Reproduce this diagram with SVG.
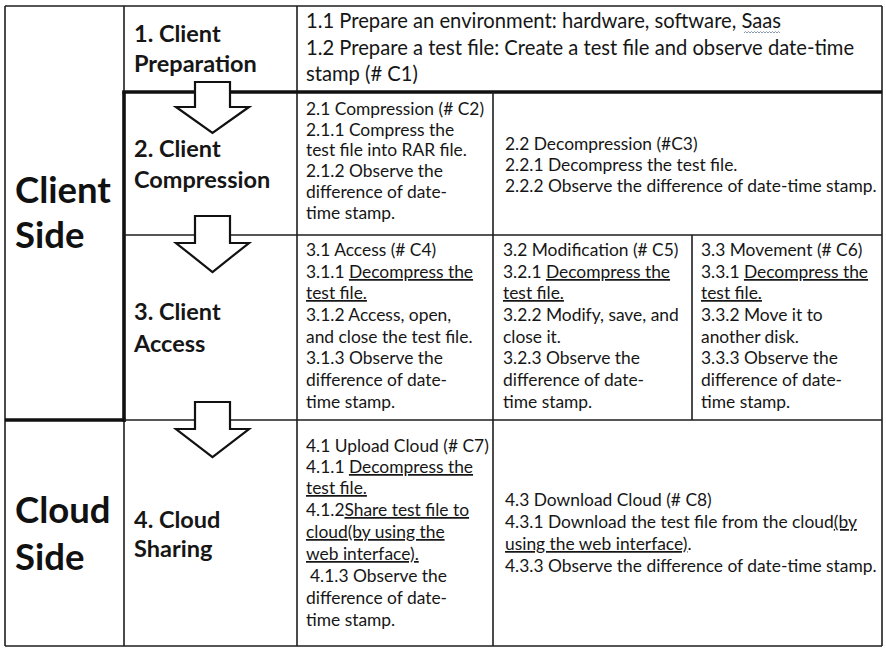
<svg xmlns="http://www.w3.org/2000/svg" width="886" height="650" viewBox="0 0 886 650">
  <style>
    .bg { fill: #ffffff; }
    .thin { stroke: #1e1e1e; stroke-width: 1.6; fill: none; }
    .thick { stroke: #111111; stroke-width: 3.6; fill: none; }
    .side { font-family: Lato, "Open Sans", sans-serif; font-weight: 700; font-size: 36.5px; fill: #111; }
    .stage { font-family: Lato, "Open Sans", sans-serif; font-weight: 700; font-size: 23.5px; fill: #161616; }
    .lead { font-family: Lato, "Open Sans", sans-serif; font-size: 20.2px; fill: #161616; }
    .body { font-family: Lato, "Open Sans", sans-serif; font-size: 17.4px; fill: #161616; }
    .u { text-decoration: underline; }
    .arrow { fill: #ffffff; stroke: #111111; stroke-width: 2.2; stroke-linejoin: miter; }
    .squiggle { fill: none; stroke: #8a98b0; stroke-width: 1; }
  </style>

  <rect class="bg" x="0" y="0" width="886" height="650"/>

  <!-- table grid -->
  <g id="grid">
    <!-- outer frame -->
    <line class="thin" x1="5" y1="6" x2="882" y2="6"/>
    <line class="thin" x1="5" y1="6" x2="5" y2="646"/>
    <line class="thin" x1="882" y1="6" x2="882" y2="646"/>
    <line class="thin" x1="5" y1="646" x2="882" y2="646" stroke-width="2.6"/>
    <!-- side / stage divider -->
    <line class="thin" x1="124" y1="6" x2="124" y2="92"/>
    <line class="thick" x1="124" y1="92" x2="124" y2="421.8"/>
    <line class="thin" x1="124" y1="420" x2="124" y2="646"/>
    <!-- stage / detail divider -->
    <line class="thin" x1="297" y1="6" x2="297" y2="646"/>
    <!-- row separators -->
    <line class="thick" x1="122.2" y1="92" x2="882" y2="92"/>
    <line class="thin" x1="124" y1="235" x2="882" y2="235"/>
    <line class="thick" x1="5" y1="420" x2="125.8" y2="420"/>
    <line class="thin" x1="124" y1="420" x2="882" y2="420"/>
    <!-- detail column dividers -->
    <line class="thin" x1="493" y1="92" x2="493" y2="646"/>
    <line class="thin" x1="692" y1="235" x2="692" y2="420"/>
  </g>

  <!-- side labels -->
  <g id="client-side">
    <text class="side" x="15" y="203">Client</text>
    <text class="side" x="15" y="248">Side</text>
  </g>
  <g id="cloud-side">
    <text class="side" x="15" y="523">Cloud</text>
    <text class="side" x="15" y="570">Side</text>
  </g>

  <!-- stage 1 -->
  <g id="stage-1">
    <text class="stage" x="134" y="42">1. Client</text>
    <text class="stage" x="134" y="72">Preparation</text>
  </g>
  <g id="detail-1">
    <text class="lead" x="306" y="28">1.1 Prepare an environment: hardware, software, Saas</text>
    <path class="squiggle" d="M744 33 l1.5 -1.5 l1.5 1.5 l1.5 -1.5 l1.5 1.5 l1.5 -1.5 l1.5 1.5 l1.5 -1.5 l1.5 1.5 l1.5 -1.5 l1.5 1.5 l1.5 -1.5 l1.5 1.5 l1.5 -1.5 l1.5 1.5 l1.5 -1.5 l1.5 1.5 l1.5 -1.5 l1.5 1.5 l1.5 -1.5 l1.5 1.5 l1.5 -1.5 l1.5 1.5 l1.5 -1.5 l1.5 1.5"/>
    <text class="lead" x="306" y="55">1.2 Prepare a test file: Create a test file and observe date-time</text>
    <text class="lead" x="306" y="81">stamp (# C1)</text>
  </g>

  <!-- stage 2 -->
  <g id="stage-2">
    <text class="stage" x="134" y="157">2. Client</text>
    <text class="stage" x="134" y="188">Compression</text>
  </g>
  <g id="detail-2-1">
    <text class="body" x="306" y="115">2.1 Compression (# C2)</text>
    <text class="body" x="306" y="136">2.1.1 Compress the</text>
    <text class="body" x="306" y="156">test file into RAR file.</text>
    <text class="body" x="306" y="177">2.1.2 Observe the</text>
    <text class="body" x="306" y="198">difference of date-</text>
    <text class="body" x="306" y="219">time stamp.</text>
  </g>
  <g id="detail-2-2">
    <text class="body" x="505" y="150">2.2 Decompression (#C3)</text>
    <text class="body" x="505" y="171">2.2.1 Decompress the test file.</text>
    <text class="body" x="505" y="192">2.2.2 Observe the difference of date-time stamp.</text>
  </g>

  <!-- stage 3 -->
  <g id="stage-3">
    <text class="stage" x="134" y="320">3. Client</text>
    <text class="stage" x="134" y="352">Access</text>
  </g>
  <g id="detail-3-1">
    <text class="body" x="306" y="256">3.1 Access (# C4)</text>
    <text class="body" x="306" y="278">3.1.1 <tspan class="u">Decompress the</tspan></text>
    <text class="body" x="306" y="299"><tspan class="u">test file.</tspan></text>
    <text class="body" x="306" y="321">3.1.2 Access, open,</text>
    <text class="body" x="306" y="343">and close the test file.</text>
    <text class="body" x="306" y="364">3.1.3 Observe the</text>
    <text class="body" x="306" y="386">difference of date-</text>
    <text class="body" x="306" y="408">time stamp.</text>
  </g>
  <g id="detail-3-2">
    <text class="body" x="503" y="256">3.2 Modification (# C5)</text>
    <text class="body" x="503" y="278">3.2.1 <tspan class="u">Decompress the</tspan></text>
    <text class="body" x="503" y="299"><tspan class="u">test file.</tspan></text>
    <text class="body" x="503" y="321">3.2.2 Modify, save, and</text>
    <text class="body" x="503" y="343">close it.</text>
    <text class="body" x="503" y="364">3.2.3 Observe the</text>
    <text class="body" x="503" y="386">difference of date-</text>
    <text class="body" x="503" y="408">time stamp.</text>
  </g>
  <g id="detail-3-3">
    <text class="body" x="701" y="256">3.3 Movement (# C6)</text>
    <text class="body" x="701" y="278">3.3.1 <tspan class="u">Decompress the</tspan></text>
    <text class="body" x="701" y="299"><tspan class="u">test file.</tspan></text>
    <text class="body" x="701" y="321">3.3.2 Move it to</text>
    <text class="body" x="701" y="343">another disk.</text>
    <text class="body" x="701" y="364">3.3.3 Observe the</text>
    <text class="body" x="701" y="386">difference of date-</text>
    <text class="body" x="701" y="408">time stamp.</text>
  </g>

  <!-- stage 4 -->
  <g id="stage-4">
    <text class="stage" x="134" y="528">4. Cloud</text>
    <text class="stage" x="134" y="557">Sharing</text>
  </g>
  <g id="detail-4-1">
    <text class="body" x="306" y="452">4.1 Upload Cloud (# C7)</text>
    <text class="body" x="306" y="473">4.1.1 <tspan class="u">Decompress the</tspan></text>
    <text class="body" x="306" y="494"><tspan class="u">test file.</tspan></text>
    <text class="body" x="306" y="516">4.1.2<tspan class="u">Share test file to</tspan></text>
    <text class="body" x="306" y="538"><tspan class="u">cloud(by using the</tspan></text>
    <text class="body" x="306" y="560"><tspan class="u">web interface).</tspan></text>
    <text class="body" x="310" y="582">4.1.3 Observe the</text>
    <text class="body" x="306" y="604">difference of date-</text>
    <text class="body" x="306" y="626">time stamp.</text>
  </g>
  <g id="detail-4-3">
    <text class="body" x="505" y="506">4.3 Download Cloud (# C8)</text>
    <text class="body" x="505" y="528">4.3.1 Download the test file from the cloud<tspan class="u">(by</tspan></text>
    <text class="body" x="505" y="550"><tspan class="u">using the web interface)</tspan>.</text>
    <text class="body" x="505" y="572">4.3.3 Observe the difference of date-time stamp.</text>
  </g>

  <!-- flow arrows between stages -->
  <g id="connectors">
    <polygon class="arrow" points="195,82 230,82 230,107 249,107 212.5,133 176,107 195,107"/>
    <polygon class="arrow" points="195,216 230,216 230,243 249,243 212.5,272 176,243 195,243"/>
    <polygon class="arrow" points="195,402 230,402 230,429 249,429 212.5,457 176,429 195,429"/>
  </g>
</svg>
